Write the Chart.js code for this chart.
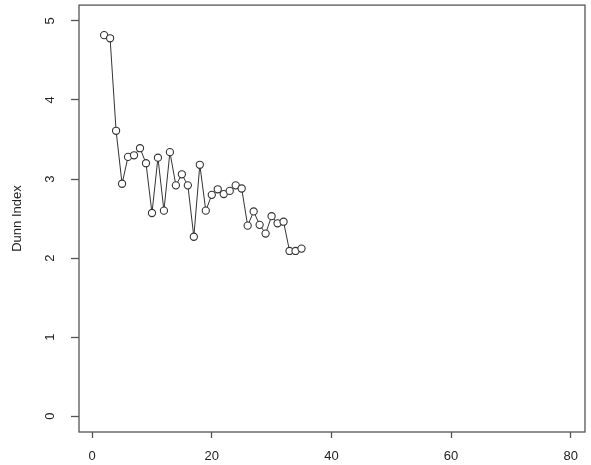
<!DOCTYPE html>
<html>
<head>
<meta charset="utf-8">
<script src="https://cdn.jsdelivr.net/npm/chart.js@4.4.0/dist/chart.umd.min.js"></script>
<style>
  html, body { margin: 0; padding: 0; background: #fff; }
  #wrap { width: 591px; height: 465px; position: relative; }
</style>
</head>
<body>
<div id="wrap"><canvas id="dunnChart"></canvas></div>
<script>
// ===== Dunn index by number of clusters =====
const clusterCounts = [2, 3, 4, 5, 6, 7, 8, 9, 10, 11, 12, 13, 14, 15, 16, 17, 18,
                       19, 20, 21, 22, 23, 24, 25, 26, 27, 28, 29, 30, 31, 32, 33, 34, 35];
const dunnValues = [4.82, 4.78, 3.61, 2.94, 3.28, 3.30, 3.39, 3.20, 2.57, 3.27, 2.60, 3.34,
                    2.92, 3.06, 2.92, 2.27, 3.18, 2.60, 2.80, 2.87, 2.81, 2.85, 2.92, 2.88,
                    2.41, 2.59, 2.42, 2.31, 2.53, 2.44, 2.46, 2.09, 2.09, 2.12];
const xTicks = [0, 20, 40, 60, 80];
const yTicks = [0, 1, 2, 3, 4, 5];

const FONT = "'Liberation Sans', Arial, sans-serif";
const INK = "#222";

// plain box around the plotting region
const boxPlugin = {
    id: "plotBox",
    afterDraw(chart) {
        const { ctx, chartArea: a } = chart;
        ctx.save();
        ctx.strokeStyle = "#555";
        ctx.lineWidth = 1.3;
        ctx.strokeRect(a.left, a.top, a.right - a.left, a.bottom - a.top);
        ctx.restore();
    }
};

// fixed axis sizes, no extra room for overhanging labels
function fixSize(prop, size) {
    return s => {
        s[prop] = size;
        s.paddingTop = 0;
        s.paddingBottom = 0;
        s.paddingLeft = 0;
        s.paddingRight = 0;
    };
}

const points = clusterCounts.map((k, i) => ({ x: k, y: dunnValues[i] }));

new Chart(document.getElementById("dunnChart"), {
    type: "line",
    data: {
        datasets: [{
            data: points,
            borderColor: "#333",
            borderWidth: 1,
            pointRadius: 3.6,
            pointBorderWidth: 1.1,
            pointBorderColor: "#333",
            pointBackgroundColor: "#fff",
            tension: 0
        }]
    },
    options: {
        responsive: true,
        maintainAspectRatio: false,
        animation: false,
        layout: { padding: { left: 0, right: 6, top: 2, bottom: 0 } },
        plugins: { legend: { display: false }, tooltip: { enabled: false } },
        scales: {
            x: {
                type: "linear",
                min: -2.2,
                max: 82.4,
                afterBuildTicks: s => { s.ticks = xTicks.map(v => ({ value: v })); },
                afterFit: fixSize("height", 33),
                grid: { drawOnChartArea: false, tickLength: 6, color: "#555", tickWidth: 1.3 },
                border: { display: false },
                ticks: {
                    color: INK,
                    padding: 11,
                    maxRotation: 0,
                    font: { family: FONT, size: 13 }
                }
            },
            y: {
                min: -0.2,
                max: 5.2,
                afterBuildTicks: s => { s.ticks = yTicks.map(v => ({ value: v })); },
                afterFit: fixSize("width", 79),
                grid: { drawOnChartArea: false, tickLength: 8, color: "#555", tickWidth: 1.3 },
                border: { display: false },
                ticks: {
                    color: INK,
                    padding: 17,
                    minRotation: 90,
                    maxRotation: 90,
                    crossAlign: "center",
                    font: { family: FONT, size: 13 }
                },
                title: {
                    display: true,
                    text: "Dunn Index",
                    color: INK,
                    padding: { top: 10, bottom: 0 },
                    font: { family: FONT, size: 13 }
                }
            }
        }
    },
    plugins: [boxPlugin]
});
</script>
</body>
</html>
